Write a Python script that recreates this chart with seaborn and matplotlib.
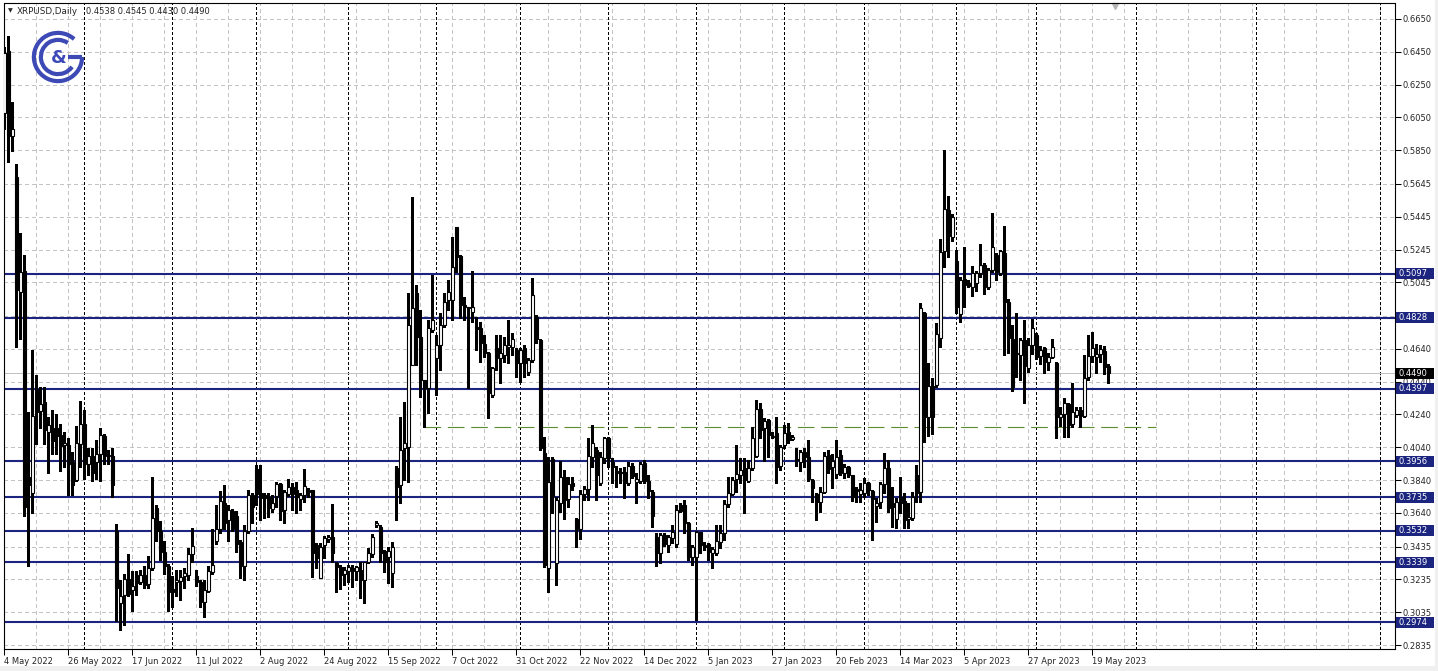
import matplotlib

matplotlib.use("Agg")

import matplotlib.pyplot as plt
import matplotlib.transforms as mtransforms
import numpy as np
import pandas as pd
import seaborn as sns
from matplotlib.patches import Arc, Rectangle

# daily OHLC (weekdays only, from 4 May 2022)
opens = [
    0.6080, 0.6457, 0.5935, 0.5688, 0.4986, 0.5116, 0.3862, 0.3761, 0.4397, 0.4261,
    0.4318, 0.4133, 0.4157, 0.4157, 0.4116, 0.4055, 0.4054, 0.3948, 0.3838, 0.4061,
    0.4181, 0.3941, 0.3989, 0.3953, 0.4001, 0.4109, 0.3990, 0.3989, 0.3528, 0.3093,
    0.3141, 0.3237, 0.3172, 0.3261, 0.3220, 0.3261, 0.3208, 0.3304, 0.3669, 0.3533,
    0.3405, 0.3316, 0.3179, 0.3220, 0.3227, 0.3256, 0.3261, 0.3388, 0.3256, 0.3220,
    0.3100, 0.3167, 0.3280, 0.3472, 0.3544, 0.3701, 0.3597, 0.3653, 0.3621, 0.3460,
    0.3316, 0.3533, 0.3749, 0.3905, 0.3759, 0.3749, 0.3739, 0.3662, 0.3745, 0.3816,
    0.3657, 0.3755, 0.3796, 0.3779, 0.3723, 0.3749, 0.3779, 0.3779, 0.3444, 0.3241,
    0.3444, 0.3479, 0.3491, 0.3336, 0.3312, 0.3267, 0.3288, 0.3304, 0.3288, 0.3292,
    0.3231, 0.3343, 0.3389, 0.3566, 0.3556, 0.3410, 0.3373, 0.3276, 0.3911, 0.3810,
    0.4034, 0.4044, 0.4542, 0.4978, 0.4714, 0.4450, 0.4400, 0.4755, 0.4582, 0.4664,
    0.4785, 0.4938, 0.4938, 0.5385, 0.5206, 0.4907, 0.4897, 0.4867, 0.4775, 0.4765,
    0.4670, 0.4613, 0.4359, 0.4643, 0.4582, 0.4603, 0.4653, 0.4653, 0.4633, 0.4556,
    0.4643, 0.4501, 0.4572, 0.4836, 0.4694, 0.4007, 0.3303, 0.3970, 0.3332, 0.3702,
    0.3861, 0.3722, 0.3820, 0.3601, 0.3540, 0.3755, 0.3783, 0.3982, 0.4023, 0.3820,
    0.3972, 0.4094, 0.3952, 0.3895, 0.3891, 0.3891, 0.3820, 0.3926, 0.3830, 0.3836,
    0.3946, 0.3836, 0.3769, 0.3495, 0.3397, 0.3505, 0.3444, 0.3485, 0.3450, 0.3688,
    0.3688, 0.3580, 0.3373, 0.3373, 0.3521, 0.3444, 0.3450, 0.3397, 0.3393, 0.3465,
    0.3516, 0.3694, 0.3755, 0.3847, 0.3871, 0.3912, 0.3837, 0.3912, 0.3987, 0.4271,
    0.4155, 0.4206, 0.4109, 0.4125, 0.3926, 0.4054, 0.4135, 0.4088, 0.3967, 0.3953,
    0.4013, 0.3983, 0.3841, 0.3755, 0.3709, 0.3770, 0.3993, 0.3918, 0.3875, 0.3993,
    0.3881, 0.3918, 0.3871, 0.3784, 0.3755, 0.3759, 0.3820, 0.3776, 0.3682, 0.3709,
    0.3816, 0.3912, 0.3702, 0.3601, 0.3736, 0.3715, 0.3601, 0.3608, 0.3872, 0.3770,
    0.4857, 0.4227, 0.4414, 0.4420, 0.4704, 0.5239, 0.5486, 0.5324, 0.5178, 0.4853,
    0.5064, 0.5044, 0.5019, 0.5044, 0.5104, 0.5151, 0.5019, 0.5121, 0.5212, 0.5104,
    0.5226, 0.4928, 0.4698, 0.4613, 0.4603, 0.4694, 0.4522, 0.4664, 0.4725, 0.4597,
    0.4643, 0.4562, 0.4593, 0.4556, 0.4223, 0.4243, 0.4304, 0.4182, 0.4237, 0.4267,
    0.4231, 0.4467, 0.4597, 0.4589, 0.4609, 0.4629, 0.4538,
]
highs = [
    0.6480, 0.6548, 0.6144, 0.5767, 0.5347, 0.5214, 0.4258, 0.4631, 0.4482, 0.4410,
    0.4410, 0.4222, 0.4270, 0.4241, 0.4181, 0.4133, 0.4097, 0.4013, 0.4169, 0.4325,
    0.4265, 0.4037, 0.4037, 0.4085, 0.4157, 0.4121, 0.4025, 0.4037, 0.3573, 0.3232,
    0.3268, 0.3388, 0.3285, 0.3285, 0.3292, 0.3316, 0.3376, 0.3857, 0.3689, 0.3588,
    0.3472, 0.3328, 0.3256, 0.3292, 0.3292, 0.3304, 0.3424, 0.3549, 0.3292, 0.3232,
    0.3232, 0.3316, 0.3544, 0.3689, 0.3773, 0.3809, 0.3689, 0.3665, 0.3653, 0.3477,
    0.3568, 0.3780, 0.3760, 0.3932, 0.3932, 0.3759, 0.3759, 0.3749, 0.3830, 0.3820,
    0.3779, 0.3844, 0.3820, 0.3830, 0.3759, 0.3905, 0.3790, 0.3779, 0.3454, 0.3454,
    0.3499, 0.3505, 0.3694, 0.3343, 0.3322, 0.3312, 0.3322, 0.3322, 0.3316, 0.3343,
    0.3343, 0.3424, 0.3511, 0.3592, 0.3566, 0.3414, 0.3434, 0.3465, 0.3926, 0.4227,
    0.4318, 0.4978, 0.5567, 0.5029, 0.4877, 0.4450, 0.4816, 0.5090, 0.4724, 0.4856,
    0.4978, 0.5060, 0.5324, 0.5385, 0.5212, 0.4958, 0.4897, 0.5117, 0.4836, 0.4806,
    0.4724, 0.4623, 0.4531, 0.4724, 0.4724, 0.4714, 0.4816, 0.4735, 0.4643, 0.4643,
    0.4664, 0.4582, 0.5070, 0.4846, 0.4698, 0.4105, 0.3983, 0.3983, 0.3739, 0.3958,
    0.3901, 0.3857, 0.3857, 0.3607, 0.3779, 0.3804, 0.4094, 0.4175, 0.4043, 0.4013,
    0.4104, 0.4104, 0.3972, 0.3926, 0.3911, 0.3922, 0.3952, 0.3946, 0.3885, 0.3952,
    0.3962, 0.3871, 0.3779, 0.3515, 0.3515, 0.3515, 0.3505, 0.3566, 0.3688, 0.3698,
    0.3718, 0.3586, 0.3444, 0.3529, 0.3525, 0.3465, 0.3458, 0.3434, 0.3566, 0.3566,
    0.3719, 0.3861, 0.3861, 0.4054, 0.3973, 0.3973, 0.3963, 0.4166, 0.4328, 0.4308,
    0.4216, 0.4210, 0.4135, 0.4223, 0.4054, 0.4176, 0.4190, 0.4115, 0.4034, 0.4023,
    0.4034, 0.4084, 0.3845, 0.3763, 0.3800, 0.4013, 0.4023, 0.3999, 0.4084, 0.4023,
    0.3938, 0.3926, 0.3871, 0.3796, 0.3820, 0.3851, 0.3830, 0.3780, 0.3729, 0.3830,
    0.4003, 0.3963, 0.3800, 0.3729, 0.3862, 0.3760, 0.3699, 0.3770, 0.3933, 0.4918,
    0.4867, 0.4552, 0.4461, 0.4796, 0.5308, 0.5852, 0.5572, 0.5462, 0.5243, 0.5080,
    0.5259, 0.5060, 0.5145, 0.5117, 0.5279, 0.5161, 0.5131, 0.5466, 0.5222, 0.5243,
    0.5389, 0.4942, 0.4786, 0.4857, 0.4704, 0.4816, 0.4704, 0.4820, 0.4739, 0.4658,
    0.4654, 0.4613, 0.4698, 0.4562, 0.4288, 0.4339, 0.4312, 0.4434, 0.4288, 0.4288,
    0.4603, 0.4725, 0.4745, 0.4670, 0.4664, 0.4658, 0.4545,
]
lows = [
    0.5980, 0.5779, 0.5844, 0.4650, 0.4703, 0.3622, 0.3316, 0.3641, 0.4061, 0.4157,
    0.4061, 0.3881, 0.4001, 0.4001, 0.3893, 0.3917, 0.3749, 0.3749, 0.3833, 0.3917,
    0.3845, 0.3869, 0.3833, 0.3845, 0.3833, 0.3941, 0.3941, 0.3737, 0.2980, 0.2925,
    0.2956, 0.3131, 0.3040, 0.3141, 0.3208, 0.3184, 0.3184, 0.3292, 0.3472, 0.3352,
    0.3268, 0.3040, 0.3064, 0.3136, 0.3112, 0.3184, 0.3232, 0.3340, 0.3196, 0.3064,
    0.3004, 0.3160, 0.3268, 0.3448, 0.3520, 0.3544, 0.3472, 0.3532, 0.3400, 0.3244,
    0.3232, 0.3520, 0.3576, 0.3688, 0.3597, 0.3607, 0.3617, 0.3647, 0.3678, 0.3597,
    0.3576, 0.3743, 0.3657, 0.3641, 0.3657, 0.3708, 0.3739, 0.3251, 0.3302, 0.3241,
    0.3363, 0.3465, 0.3343, 0.3160, 0.3174, 0.3200, 0.3221, 0.3190, 0.3231, 0.3119,
    0.3093, 0.3333, 0.3373, 0.3556, 0.3343, 0.3282, 0.3211, 0.3191, 0.3600, 0.3699,
    0.3841, 0.3831, 0.4542, 0.4542, 0.4349, 0.4166, 0.4247, 0.4745, 0.4359, 0.4511,
    0.4775, 0.4877, 0.4816, 0.5110, 0.4826, 0.4816, 0.4400, 0.4806, 0.4633, 0.4562,
    0.4592, 0.4217, 0.4349, 0.4511, 0.4430, 0.4562, 0.4552, 0.4603, 0.4471, 0.4440,
    0.4471, 0.4481, 0.4562, 0.4674, 0.4024, 0.3313, 0.3160, 0.3637, 0.3200, 0.3647,
    0.3601, 0.3678, 0.3779, 0.3434, 0.3479, 0.3718, 0.3718, 0.3922, 0.3718, 0.3810,
    0.3946, 0.3917, 0.3820, 0.3796, 0.3820, 0.3729, 0.3810, 0.3850, 0.3698, 0.3820,
    0.3820, 0.3729, 0.3556, 0.3316, 0.3332, 0.3438, 0.3404, 0.3454, 0.3434, 0.3647,
    0.3515, 0.3353, 0.3322, 0.2987, 0.3393, 0.3414, 0.3353, 0.3302, 0.3383, 0.3424,
    0.3475, 0.3678, 0.3749, 0.3770, 0.3820, 0.3642, 0.3830, 0.3902, 0.3983, 0.4095,
    0.3958, 0.3983, 0.4095, 0.3824, 0.3902, 0.4034, 0.4064, 0.4084, 0.3926, 0.3898,
    0.3922, 0.3837, 0.3709, 0.3597, 0.3648, 0.3759, 0.3881, 0.3790, 0.3851, 0.3870,
    0.3855, 0.3861, 0.3715, 0.3709, 0.3709, 0.3735, 0.3749, 0.3475, 0.3587, 0.3668,
    0.3759, 0.3648, 0.3556, 0.3546, 0.3638, 0.3547, 0.3547, 0.3597, 0.3709, 0.3709,
    0.4075, 0.4109, 0.4121, 0.4410, 0.4654, 0.5141, 0.5198, 0.5300, 0.4857, 0.4806,
    0.4897, 0.5019, 0.4962, 0.4995, 0.5080, 0.4975, 0.5003, 0.5111, 0.5060, 0.5090,
    0.4603, 0.4617, 0.4385, 0.4467, 0.4450, 0.4308, 0.4500, 0.4609, 0.4577, 0.4548,
    0.4491, 0.4511, 0.4583, 0.4095, 0.4170, 0.4105, 0.4105, 0.4166, 0.4223, 0.4162,
    0.4223, 0.4450, 0.4562, 0.4491, 0.4562, 0.4487, 0.4430,
]
closes = [
    0.6440, 0.5935, 0.5978, 0.4998, 0.5106, 0.3674, 0.3809, 0.4229, 0.4253, 0.4301,
    0.4145, 0.4176, 0.4078, 0.4109, 0.4049, 0.4065, 0.3941, 0.3809, 0.4068, 0.4181,
    0.3941, 0.3989, 0.3881, 0.4001, 0.4116, 0.3989, 0.3995, 0.3809, 0.3184, 0.3136,
    0.3237, 0.3148, 0.3196, 0.3213, 0.3261, 0.3203, 0.3304, 0.3612, 0.3533, 0.3400,
    0.3316, 0.3160, 0.3160, 0.3232, 0.3249, 0.3273, 0.3388, 0.3441, 0.3220, 0.3100,
    0.3172, 0.3285, 0.3321, 0.3544, 0.3713, 0.3581, 0.3660, 0.3544, 0.3453, 0.3316,
    0.3533, 0.3749, 0.3674, 0.3755, 0.3729, 0.3729, 0.3668, 0.3702, 0.3814, 0.3653,
    0.3769, 0.3796, 0.3755, 0.3739, 0.3749, 0.3804, 0.3769, 0.3397, 0.3363, 0.3430,
    0.3485, 0.3495, 0.3393, 0.3308, 0.3261, 0.3292, 0.3308, 0.3284, 0.3308, 0.3231,
    0.3343, 0.3397, 0.3495, 0.3576, 0.3397, 0.3343, 0.3410, 0.3435, 0.3800, 0.4024,
    0.4064, 0.4785, 0.4887, 0.4714, 0.4450, 0.4400, 0.4765, 0.4816, 0.4664, 0.4785,
    0.4928, 0.4989, 0.5137, 0.5198, 0.4907, 0.4893, 0.4887, 0.4893, 0.4759, 0.4674,
    0.4613, 0.4369, 0.4521, 0.4582, 0.4613, 0.4664, 0.4664, 0.4698, 0.4556, 0.4633,
    0.4552, 0.4572, 0.4968, 0.4698, 0.4034, 0.3323, 0.3830, 0.3745, 0.3718, 0.3861,
    0.3718, 0.3814, 0.3804, 0.3540, 0.3755, 0.3783, 0.3987, 0.4068, 0.3871, 0.3982,
    0.4094, 0.3972, 0.3922, 0.3885, 0.3881, 0.3820, 0.3926, 0.3865, 0.3844, 0.3936,
    0.3836, 0.3775, 0.3621, 0.3397, 0.3505, 0.3450, 0.3491, 0.3525, 0.3657, 0.3653,
    0.3580, 0.3373, 0.3434, 0.3525, 0.3442, 0.3434, 0.3404, 0.3418, 0.3471, 0.3520,
    0.3694, 0.3759, 0.3841, 0.3877, 0.3902, 0.3841, 0.3912, 0.4095, 0.4271, 0.4145,
    0.4202, 0.4115, 0.4105, 0.3922, 0.4044, 0.4129, 0.4084, 0.4105, 0.3963, 0.4013,
    0.3979, 0.3845, 0.3790, 0.3709, 0.3770, 0.3987, 0.3906, 0.3958, 0.3983, 0.3881,
    0.3918, 0.3871, 0.3735, 0.3776, 0.3780, 0.3820, 0.3780, 0.3723, 0.3698, 0.3816,
    0.3912, 0.3668, 0.3678, 0.3709, 0.3703, 0.3597, 0.3614, 0.3736, 0.3760, 0.4887,
    0.4227, 0.4414, 0.4227, 0.4731, 0.5233, 0.5490, 0.5328, 0.5442, 0.4897, 0.5060,
    0.5029, 0.5023, 0.5100, 0.5100, 0.5151, 0.5019, 0.5121, 0.5259, 0.5111, 0.5237,
    0.4928, 0.4704, 0.4410, 0.4609, 0.4694, 0.4536, 0.4664, 0.4765, 0.4593, 0.4633,
    0.4562, 0.4593, 0.4654, 0.4223, 0.4243, 0.4308, 0.4176, 0.4257, 0.4267, 0.4231,
    0.4461, 0.4597, 0.4643, 0.4609, 0.4637, 0.4532, 0.4490,
]

start_date = "2022-05-04"
symbol_title = "XRPUSD,Daily"
levels = [0.5097, 0.4828, 0.4397, 0.3956, 0.3735, 0.3532, 0.3339, 0.2974]
bid_price = 0.4490
trend_bars = [105, 288]
trend_prices = [0.4164, 0.4164]
price_ticks = [0.6650, 0.6450, 0.6250, 0.6050, 0.5850, 0.5645, 0.5445, 0.5245,
               0.5045, 0.4840, 0.4640, 0.4440, 0.4240, 0.4040, 0.3840, 0.3640,
               0.3435, 0.3235, 0.3035, 0.2835]
# 0.4840 sits under the 0.4828 box, so the chart shows no text there
price_tick_labels = ["0.6650", "0.6450", "0.6250", "0.6050", "0.5850", "0.5645",
                     "0.5445", "0.5245", "0.5045", "", "0.4640", "0.4440",
                     "0.4240", "0.4040", "0.3840", "0.3640", "0.3435", "0.3235",
                     "0.3035", "0.2835"]

W, H = 1438, 671
NAVY = "#1b2580"
GRID = "#c3c3c3"
LOGO = "#3d4ab5"

sns.set_style("white")
plt.rcParams["font.family"] = ["DejaVu Sans"]
plt.rcParams["font.size"] = 6

n = len(closes)
df = pd.DataFrame({"bar": np.arange(n), "open": opens, "high": highs,
                   "low": lows, "close": closes})
df["date"] = pd.bdate_range(start_date, periods=n)
df["up"] = df["close"] >= df["open"]

# bars after the last one continue day by day in the shifted area
future = pd.date_range(df["date"].iloc[-1] + pd.Timedelta(days=1), periods=80, freq="D")
all_dates = pd.DatetimeIndex(df["date"]).append(future)

fig = plt.figure(figsize=(W / 100, H / 100), dpi=100)
ax = fig.add_axes([4 / W, 1 - 649 / H, 1391 / W, 646 / H])
xmax = 347.7
ax.set_xlim(-0.1, xmax)
ax.set_ylim(0.28109, 0.67475)

# grid
for b in range(0, int(xmax) + 1, 8):
    ax.axvline(b, color=GRID, lw=0.75, ls=(0, (3, 3)), zorder=0, antialiased=False)
for p in price_ticks:
    ax.axhline(p, color=GRID, lw=0.75, ls=(0, (3, 3)), zorder=0, antialiased=False)

# monthly period separators
for i in range(1, len(all_dates)):
    if all_dates[i].month != all_dates[i - 1].month and i < xmax:
        ax.axvline(i, color="black", lw=0.75, ls=(0, (2, 2)), zorder=1,
                   antialiased=False)

ax.axhline(bid_price, color="#c0c0c0", lw=0.7, zorder=1)
for lv in levels:
    ax.axhline(lv, color=NAVY, lw=1.5, zorder=2)

sns.lineplot(x=trend_bars, y=trend_prices, ax=ax, color="#5b8c32", lw=0.8,
             linestyle=(0, (15, 6)), zorder=2)

# candles
ax.vlines(df["bar"], df["low"], df["high"], color="black", lw=0.8, zorder=3,
          antialiased=False)
body = np.maximum((df["close"] - df["open"]).abs(), 0.00015)
ax.bar(df["bar"], body, bottom=np.minimum(df["open"], df["close"]), width=0.64,
       color=np.where(df["up"], "white", "black"), edgecolor="black",
       linewidth=0.8, zorder=4)

# axes, ticks
ax.yaxis.tick_right()
ax.set_yticks(price_ticks)
ax.set_yticklabels(price_tick_labels)
ax.tick_params(axis="y", right=True, left=False, length=4, width=0.75, pad=1.5,
               labelsize=6, color="black")
label_bars = df["bar"].iloc[::16]
ax.set_xticks(label_bars)
ax.set_xticklabels([f"{d.day} {d:%b %Y}" for d in df["date"].iloc[::16]], ha="left")
ax.tick_params(axis="x", bottom=True, length=4, width=0.75, pad=2, labelsize=6,
               color="black")
ax.set_xlabel("")
ax.set_ylabel("")
for s in ax.spines.values():
    s.set_color("black")
    s.set_linewidth(0.8)

# price labels on the right
trans = mtransforms.blended_transform_factory(ax.transAxes, ax.transData)
box_w, box_h = 38 / 1391, 11 / 1641
x0 = 1 + 1 / 1391
for lv, fc in [(v, NAVY) for v in levels] + [(bid_price, "black")]:
    ax.add_patch(Rectangle((x0, lv - box_h / 2), box_w, box_h, transform=trans,
                           fc=fc, ec="none", clip_on=False, zorder=10))
    ax.text(x0 + 3 / 1391, lv, f"{lv:.4f}", transform=trans, color="white",
            va="center", ha="left", fontsize=6, zorder=11, clip_on=False)

# chart shift marker
ax.plot([n + 0.7], [0.996], marker="v", color="#b4b4b4", ms=5, clip_on=False,
        transform=mtransforms.blended_transform_factory(ax.transData, ax.transAxes))

# header
fig.text(8 / W, 1 - 11 / H, "\u25bc", fontsize=4.5, va="center")
fig.text(17 / W, 1 - 11 / H, symbol_title, fontsize=6.3, va="center")
fig.text(86 / W, 1 - 11 / H,
         f"{opens[-1]:.4f} {highs[-1]:.4f} {lows[-1]:.4f} {closes[-1]:.4f}",
         fontsize=6, va="center")

# logo
lg = fig.add_axes([31 / W, 1 - 84 / H, 54 / W, 54 / H])
lg.set_xlim(-1.12, 1.12)
lg.set_ylim(-1.12, 1.12)
lg.axis("off")
lg.add_patch(Arc((0, 0), 2.0, 2.0, theta1=48, theta2=360, lw=3, color=LOGO))
lg.add_patch(Arc((0, 0), 1.42, 1.42, theta1=55, theta2=325, lw=3, color=LOGO))
lg.plot([0.42, 1.0], [0, 0], color=LOGO, lw=3, solid_capstyle="butt")
lg.text(0.02, -0.04, "&", fontsize=13, fontweight="bold", color=LOGO,
        ha="center", va="center")

# window frame strips
fig.patches.append(Rectangle((0, 0), 1, 5 / H, transform=fig.transFigure,
                             fc="#f0f0f0", ec="none"))
fig.patches.append(Rectangle((1435 / W, 0), 3 / W, 1, transform=fig.transFigure,
                             fc="#f0f0f0", ec="none"))

fig.savefig("out.png", dpi=100)
plt.close(fig)
